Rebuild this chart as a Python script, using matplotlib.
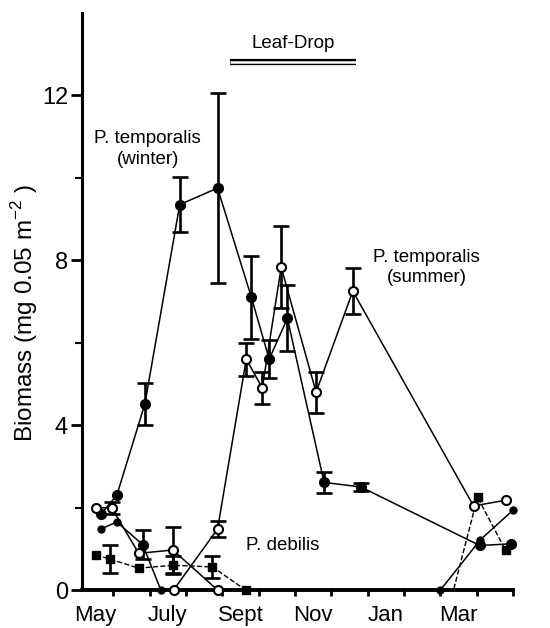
import numpy as np
import matplotlib.pyplot as plt

plt.rcParams['font.family'] = ['Liberation Sans', 'DejaVu Sans']

# months counted from 1 May
winter_x = [0.66, 1.10, 1.87, 2.83, 3.87, 4.80, 5.29, 5.79, 6.80, 7.81, 11.08, 11.95]
winter_y = [1.84, 2.30, 4.51, 9.35, 9.75, 7.10, 5.60, 6.59, 2.61, 2.50, 1.08, 1.12]
winter_err = [0, 0, 0.50, 0.67, 2.30, 1.00, 0.46, 0.80, 0.25, 0.10, 0, 0]

summer_x = [2.66, 3.87, 4.66, 5.10, 5.62, 6.58, 7.59, 10.91, 11.81]
summer_y = [0, 1.48, 5.60, 4.90, 7.83, 4.80, 7.25, 2.04, 2.18]
summer_err = [0, 0.20, 0.40, 0.40, 1.00, 0.50, 0.55, 0, 0]

old_summer_x = [0.53, 0.96, 1.70, 2.64, 3.87]
old_summer_y = [2.00, 1.99, 0.89, 0.97, 0]
old_summer_err = [0, 0.15, 0, 0.55, 0]

old_winter_x = [0.66, 1.10, 1.81, 2.31]
old_winter_y = [1.48, 1.65, 1.10, 0]
old_winter_err = [0, 0, 0.35, 0]

new_winter_x = [10.00, 11.10, 12.00]
new_winter_y = [0, 1.22, 1.94]

debilis_x = [0.53, 0.91, 1.70, 2.64, 3.73, 4.64, 10.36, 11.02, 11.79]
debilis_y = [0.85, 0.75, 0.53, 0.60, 0.56, 0, 0, 2.25, 0.97]
debilis_err = [0, 0.33, 0, 0.22, 0.27, 0, 0, 0, 0]
debilis_marked = [0, 1, 2, 3, 4, 5, 7, 8]

month_labels = ['May', 'July', 'Sept', 'Nov', 'Jan', 'Mar']
leaf_drop = (4.20, 7.68)


def error_bars(ax, x, y, err):
    # only points that actually carry an error bar
    x, y, err = np.asarray(x), np.asarray(y), np.asarray(err)
    keep = err > 0
    ax.errorbar(x[keep], y[keep], yerr=err[keep], fmt='none', ecolor='black',
                elinewidth=1.9, capsize=6, capthick=1.9, zorder=2)


fig = plt.figure(figsize=(5.5, 6.28), dpi=100)
ax = fig.add_axes([0.149, 0.0605, 0.784, 0.919])

error_bars(ax, winter_x, winter_y, winter_err)
error_bars(ax, summer_x, summer_y, summer_err)
error_bars(ax, old_summer_x, old_summer_y, old_summer_err)
error_bars(ax, old_winter_x, old_winter_y, old_winter_err)
error_bars(ax, debilis_x, debilis_y, debilis_err)

ax.plot(debilis_x, debilis_y, '--', color='black', lw=1.0, marker='s', ms=5.5,
        markevery=debilis_marked, zorder=3, clip_on=False)
ax.plot(old_winter_x, old_winter_y, '-o', color='black', lw=1.1, ms=5, zorder=3, clip_on=False)
ax.plot(old_winter_x[2], old_winter_y[2], 'o', color='black', ms=7, zorder=3)
ax.plot(new_winter_x, new_winter_y, '-o', color='black', lw=1.1, ms=5, zorder=3, clip_on=False)
ax.plot(winter_x, winter_y, '-o', color='black', lw=1.1, ms=7, zorder=4, clip_on=False)
ax.plot(old_summer_x, old_summer_y, '-o', color='black', mfc='white', mew=1.5, lw=1.1, ms=6.5,
        zorder=4, clip_on=False)
ax.plot(summer_x, summer_y, '-o', color='black', mfc='white', mew=1.5, lw=1.1, ms=6.5,
        zorder=5, clip_on=False)

# leaf-drop period bar (double line)
ax.plot(leaf_drop, [12.82, 12.82], color='black', lw=4.5, solid_capstyle='butt', clip_on=False)
ax.plot(leaf_drop, [12.82, 12.82], color='white', lw=1.8, solid_capstyle='butt', clip_on=False)
ax.text(np.mean(leaf_drop), 13.05, 'Leaf-Drop', ha='center', va='bottom', fontsize=13.5)

ax.text(1.95, 10.7, 'P. temporalis\n(winter)', ha='center', va='center', fontsize=13.5,
        linespacing=1.25)
ax.text(9.62, 7.83, 'P. temporalis\n(summer)', ha='center', va='center', fontsize=13.5,
        linespacing=1.25)
ax.text(4.66, 1.09, 'P. debilis', ha='left', va='center', fontsize=13.5)

ax.set_xlim(0.14, 12.0)
ax.set_ylim(0, 14)
ax.set_yticks([0, 4, 8, 12])
ax.set_yticks([2, 6, 10], minor=True)
ax.set_xticks(np.arange(1, 13))
ax.set_xticklabels([])
ax.set_xticks(np.arange(0.5, 12, 2), minor=True)
ax.set_xticklabels(month_labels, minor=True, fontsize=16)
ax.tick_params(axis='x', which='minor', length=0, pad=11)
ax.tick_params(axis='x', which='major', length=4, width=2)
ax.tick_params(axis='y', which='major', length=8, width=2, labelsize=17, pad=2)
ax.tick_params(axis='y', which='minor', length=5, width=1.5)

for side in ['top', 'right']:
    ax.spines[side].set_visible(False)
ax.spines['left'].set_linewidth(2.2)
ax.spines['bottom'].set_linewidth(2.8)

ax.set_ylabel(r'Biomass (mg 0.05 m$^{\mathregular{-2}}$ )', fontsize=17.5)
ax.yaxis.set_label_coords(-0.097, 0.48)

fig.savefig('out.png', dpi=100)
